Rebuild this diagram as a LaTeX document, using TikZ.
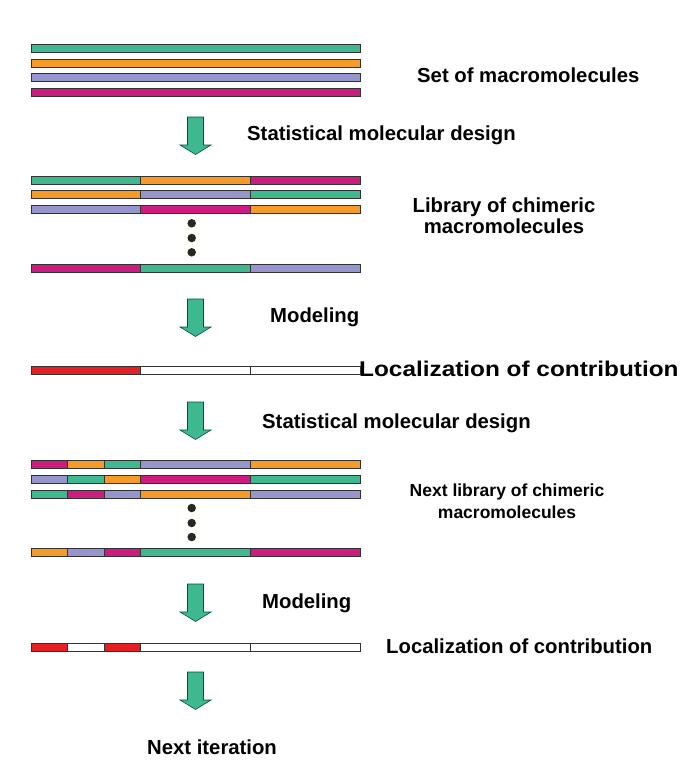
\documentclass[tikz,border=0pt]{standalone}
\usepackage{fontspec}
\setmainfont{Liberation Sans}
\begin{document}
\begin{tikzpicture}[x=1pt,y=-1pt,
  seg/.style={draw=black!80, line width=0.8pt},
  bigarrow/.style={draw=teal!60!black, fill=cteal, line width=0.6pt},
  lbl/.style={font=\fontsize{20.3}{24}\selectfont\bfseries, inner sep=0pt, align=center},
  smalllbl/.style={font=\fontsize{17.5}{22}\selectfont\bfseries, inner sep=0pt, align=center},
  dot/.style={circle, fill=cdot, inner sep=0pt, minimum size=8.5pt}]
\definecolor{cteal}{RGB}{62,184,142}
\definecolor{corange}{RGB}{247,155,40}
\definecolor{clav}{RGB}{150,150,204}
\definecolor{cmag}{RGB}{204,28,128}
\definecolor{cred}{RGB}{228,32,36}
\definecolor{cdot}{RGB}{40,40,30}
\useasboundingbox (0,0) rectangle (685,779);
% helper: bar with segments
\newcommand{\segbar}[2]{% #1 = y top, #2 = list of x1/x2/color
  \foreach \xa/\xb/\cc in {#2} {\draw[seg, fill=\cc] (\xa,#1) rectangle (\xb,#1+8);}}
\newcommand{\blockarrow}[2]{% #1 name, #2 top y
  \draw[bigarrow] (187.5,#2) -- (203.5,#2) -- (203.5,#2+28) -- (211,#2+28) -- (195.5,#2+37.5) -- (180,#2+28) -- (187.5,#2+28) -- cycle;
  \coordinate (#1) at (195.5,#2);}
% set of macromolecules
\segbar{44.5}{31.7/360.3/cteal}
\segbar{59}{31.7/360.3/corange}
\segbar{73.5}{31.7/360.3/clav}
\segbar{88}{31.7/360.3/cmag}
\node[lbl, anchor=base west] (t1) at (417,82) {Set of macromolecules};
\blockarrow{a1}{117}
\node[lbl, anchor=base west] (t2) at (247,140) {Statistical molecular design};
% library
\segbar{176}{31.7/140.7/cteal, 140.7/250.3/corange, 250.3/360.3/cmag}
\segbar{190.5}{31.7/140.7/corange, 140.7/250.3/clav, 250.3/360.3/cteal}
\segbar{205}{31.7/140.7/clav, 140.7/250.3/cmag, 250.3/360.3/corange}
\node[dot] (d1) at (191.7,223.3) {};
\node[dot] (d2) at (191.7,238) {};
\node[dot] (d3) at (191.7,252.3) {};
\segbar{264}{31.7/140.7/cmag, 140.7/250.3/cteal, 250.3/360.3/clav}
\node[lbl, anchor=base] (t3) at (504,212) {Library of chimeric};
\node[lbl, anchor=base] (t3b) at (504,233) {macromolecules};
\blockarrow{a2}{299}
\node[lbl, anchor=base west] (t4) at (270,322) {Modeling};
% localization 1
\node[lbl, anchor=base west] (t5) at (359,376) {\scalebox{1.2}[1.05]{Localization of contribution}};
\segbar{366}{31.7/140.7/cred, 140.7/250.3/white, 250.3/360.3/white}
\blockarrow{a3}{402}
\node[lbl, anchor=base west] (t6) at (262,428) {Statistical molecular design};
% next library
\segbar{460.5}{31.7/67.3/cmag, 67.3/104.3/corange, 104.3/140.7/cteal, 140.7/250.3/clav, 250.3/360.3/corange}
\segbar{475}{31.7/67.3/clav, 67.3/104.3/cteal, 104.3/140.7/corange, 140.7/250.3/cmag, 250.3/360.3/cteal}
\segbar{490}{31.7/67.3/cteal, 67.3/104.3/cmag, 104.3/140.7/clav, 140.7/250.3/corange, 250.3/360.3/clav}
\node[dot] (d4) at (191.7,508) {};
\node[dot] (d5) at (191.7,523) {};
\node[dot] (d6) at (191.7,537) {};
\segbar{548.5}{31.7/67.3/corange, 67.3/104.3/clav, 104.3/140.7/cmag, 140.7/250.3/cteal, 250.3/360.3/cmag}
\node[smalllbl, anchor=base] (t7) at (507,496) {Next library of chimeric};
\node[smalllbl, anchor=base] (t7b) at (507,518) {macromolecules};
\blockarrow{a4}{584}
\node[lbl, anchor=base west] (t8) at (262,608) {Modeling};
% localization 2
\segbar{643.5}{31.7/67.3/cred, 67.3/104.3/white, 104.3/140.7/cred, 140.7/250.3/white, 250.3/360.3/white}
\node[lbl, anchor=base west] (t9) at (386,653) {Localization of contribution};
\blockarrow{a5}{672}
\node[lbl, anchor=base west] (t10) at (147,754) {Next iteration};
\end{tikzpicture}
\end{document}
